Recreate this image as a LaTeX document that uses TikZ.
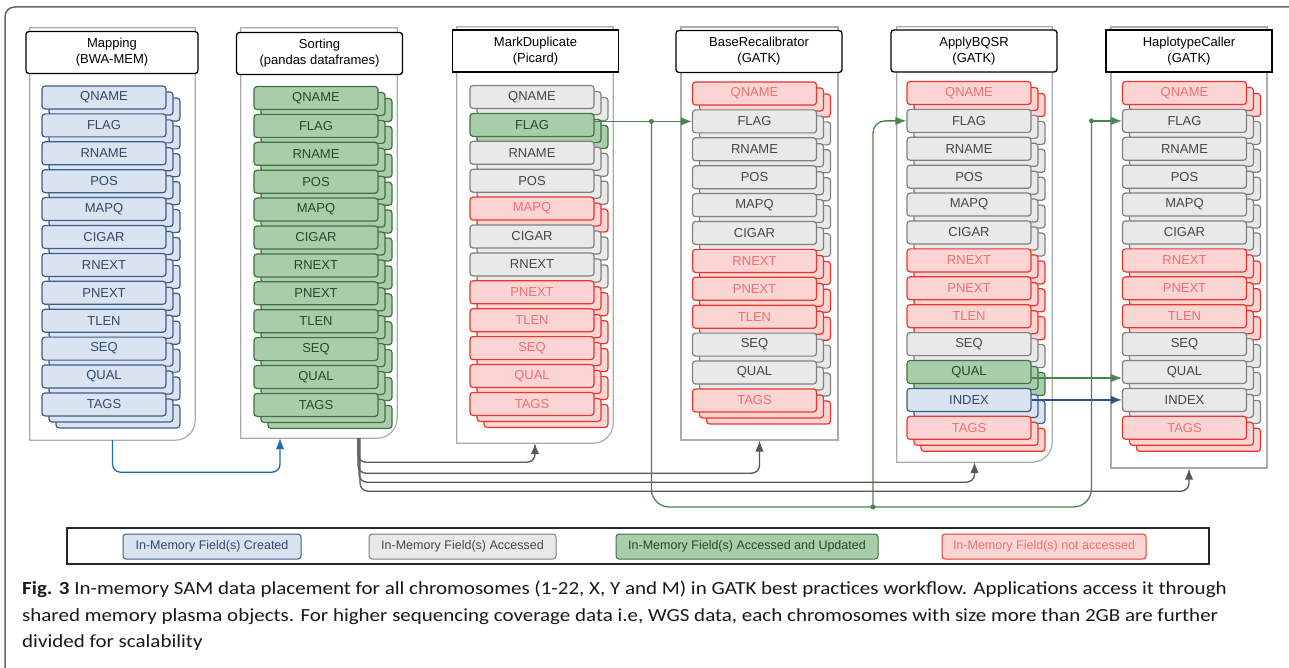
\documentclass[tikz,border=0pt]{standalone}
\usepackage{fontspec}
\setmainfont{Liberation Sans}
\newfontfamily\capfont[FakeStretch=1.135]{Carlito}
\usetikzlibrary{arrows.meta,positioning,fit}

\definecolor{crtfill}{RGB}{218,227,240}
\definecolor{crtline}{RGB}{62,92,140}
\definecolor{crttext}{RGB}{50,72,112}
\definecolor{accfill}{RGB}{233,233,233}
\definecolor{accline}{RGB}{128,128,128}
\definecolor{acctext}{RGB}{70,70,70}
\definecolor{updfill}{RGB}{167,206,169}
\definecolor{updline}{RGB}{66,112,68}
\definecolor{updtext}{RGB}{40,72,42}
\definecolor{nacfill}{RGB}{251,212,212}
\definecolor{nacline}{RGB}{240,52,42}
\definecolor{nactext}{RGB}{242,112,112}
\definecolor{flowgreen}{RGB}{72,135,74}
\definecolor{flowblue}{RGB}{30,108,170}
\definecolor{flownavy}{RGB}{48,82,140}
\definecolor{flowgray}{RGB}{88,88,88}

\tikzset{font=\fontsize{13}{16}\selectfont}
\tikzset{
  fld/.style={draw, rounded corners=3pt, line width=1.2pt, minimum width=124pt,
    minimum height=23pt, inner sep=0pt},
  crt/.style={fld, fill=crtfill, draw=crtline, text=crttext},
  acc/.style={fld, fill=accfill, draw=accline, text=acctext},
  upd/.style={fld, fill=updfill, draw=updline, text=updtext},
  nac/.style={fld, fill=nacfill, draw=nacline, text=nactext},
  stagebox/.style={draw=black, fill=white, line width=1.3pt, rounded corners=3pt,
    minimum width=166pt, minimum height=42pt, align=center, inner sep=0pt},
  contbox/.style={inner sep=0pt},
  contline/.style={draw=black!33, line width=1.2pt},
  legitem/.style={minimum height=25pt, font=\fontsize{12.5}{14}\selectfont, line width=1pt},
  flow/.style={line width=1.3pt, -{Latex[length=11pt,width=8.5pt]}},
}

% one field with its two stacked copies
\newcommand{\fld}[5]{%
  \node[#4] at ({#2+14},{#3+12}) {};
  \node[#4] at ({#2+7},{#3+6}) {};
  \node[#4] (#1) at ({#2},{#3}) {#5};}
% container, rounded bottom right / square
\newcommand{\contR}[3]{%
  \node[contbox, fit={#2 #3}] (#1) {};
  \draw[contline] (#1.south west) -- (#1.north west) -- (#1.north east)
    -- ([yshift=20pt]#1.south east) .. controls ([yshift=9pt]#1.south east)
    and ([xshift=-9pt]#1.south east) .. ([xshift=-20pt]#1.south east) -- cycle;}
\newcommand{\contS}[3]{%
  \node[contbox, contline, fit={#2 #3}] (#1) {};}

\begin{document}
\begin{tikzpicture}[x=1pt,y=-1pt]
  \useasboundingbox[fill=white] (0,0) rectangle (1289,668);
  \draw[line width=1.5pt, black!60] (5,680) -- (5,17) .. controls (5,11) and (9,7) .. (15,7) -- (1300,7);

  % containers
  \contR{mapC}{(30,28)}{(195,440)}
  \contR{sortC}{(241,28)}{(397,438)}
  \contR{mdC}{(457,27)}{(613,443)}
  \contS{brC}{(681,27)}{(838,440)}
  \contR{aqC}{(897,27)}{(1052,462)}
  \contS{hcC}{(1111,27)}{(1267,468)}

  % stage titles
  \node[stagebox, minimum width=172pt] (mapT) at (112,52.5) {Mapping\\(BWA-MEM)};
  \node[stagebox] (sortT) at (319.5,53.5) {Sorting\\(pandas dataframes)};
  \node[stagebox, sharp corners] (mdT) at (535.5,51) {MarkDuplicate\\(Picard)};
  \node[stagebox] (brT) at (759,51.5) {BaseRecalibrator\\(GATK)};
  \node[stagebox] (aqT) at (974,51) {ApplyBQSR\\(GATK)};
  \node[stagebox, sharp corners] (hcT) at (1189,51) {HaplotypeCaller\\(GATK)};

  % fields
  \foreach \lbl/\kind [count=\i] in {QNAME/crt,FLAG/crt,RNAME/crt,POS/crt,MAPQ/crt,CIGAR/crt,
      RNEXT/crt,PNEXT/crt,TLEN/crt,SEQ/crt,QUAL/crt,TAGS/crt}
    {\fld{map\i}{104}{97.5+27.9*(\i-1)}{\kind}{\lbl}}
  \foreach \lbl/\kind [count=\i] in {QNAME/upd,FLAG/upd,RNAME/upd,POS/upd,MAPQ/upd,CIGAR/upd,
      RNEXT/upd,PNEXT/upd,TLEN/upd,SEQ/upd,QUAL/upd,TAGS/upd}
    {\fld{sort\i}{316}{98+27.9*(\i-1)}{\kind}{\lbl}}
  \foreach \lbl/\kind [count=\i] in {QNAME/acc,FLAG/upd,RNAME/acc,POS/acc,MAPQ/nac,CIGAR/acc,
      RNEXT/acc,PNEXT/nac,TLEN/nac,SEQ/nac,QUAL/nac,TAGS/nac}
    {\fld{md\i}{532}{97+27.9*(\i-1)}{\kind}{\lbl}}
  \foreach \lbl/\kind [count=\i] in {QNAME/nac,FLAG/acc,RNAME/acc,POS/acc,MAPQ/acc,CIGAR/acc,
      RNEXT/nac,PNEXT/nac,TLEN/nac,SEQ/acc,QUAL/acc,TAGS/nac}
    {\fld{br\i}{754.5}{93.5+27.9*(\i-1)}{\kind}{\lbl}}
  \foreach \lbl/\kind [count=\i] in {QNAME/nac,FLAG/acc,RNAME/acc,POS/acc,MAPQ/acc,CIGAR/acc,
      RNEXT/nac,PNEXT/nac,TLEN/nac,SEQ/acc,QUAL/upd,INDEX/crt,TAGS/nac}
    {\fld{aq\i}{969}{93+27.9*(\i-1)}{\kind}{\lbl}}
  \foreach \lbl/\kind [count=\i] in {QNAME/nac,FLAG/acc,RNAME/acc,POS/acc,MAPQ/acc,CIGAR/acc,
      RNEXT/nac,PNEXT/nac,TLEN/nac,SEQ/acc,QUAL/acc,INDEX/acc,TAGS/nac}
    {\fld{hc\i}{1184.5}{93+27.9*(\i-1)}{\kind}{\lbl}}

  % data flow
  \draw[flow, flowblue, rounded corners=8pt] (mapC.south) -- ++(0,32) -| ([xshift=-39pt]sortC.south);
  \draw[flow, flowgray, rounded corners=8pt] ([xshift=39pt]sortC.south) -- ++(0,24) -| (mdC.south);
  \draw[flow, flowgray, rounded corners=8pt] ([xshift=39pt]sortC.south) -- ++(0,35) -| (brC.south);
  \draw[flow, flowgray, rounded corners=8pt] ([xshift=40pt]sortC.south) -- ++(0,44) -| (aqC.south);
  \draw[flow, flowgray, rounded corners=8pt] ([xshift=41pt]sortC.south) -- ++(0,53) -| (hcC.south);

  \path (br2.west) ++(-40.5,0) coordinate (gsplit);
  \path (hc2.west) ++(-30.5,0) coordinate (gjoin);
  \coordinate (gbus) at (873,507);
  \draw[flow, flowgreen] (md2.east |- br2.west) -- (br2.west);
  \draw[line width=1.3pt, flowgreen, rounded corners=18pt] (gsplit) |- (gbus) -| (gjoin);
  \draw[flow, flowgreen, rounded corners=12pt] (gbus) |- (aq2.west);
  \draw[flow, flowgreen] (gjoin) -- (hc2.west);
  \foreach \p in {gsplit,gbus,gjoin} \fill[flowgreen] (\p) circle (2.5pt);
  \draw[flow, flowgreen] ([yshift=-6pt]aq11.east) -- ([yshift=-6pt]hc11.west);
  \draw[flow, flownavy] (aq12.east) -- (hc12.west);

  % legend
  \node[draw=black!85, line width=1.2pt, minimum width=1142pt, minimum height=36pt] (legend) at (638,546) {};
  \node[crt, legitem, minimum width=178pt] (legcrt) at (212,546.5) {In-Memory Field(s) Created};
  \node[acc, legitem, minimum width=187pt] (legacc) at (462.5,546.5) {In-Memory Field(s) Accessed};
  \node[upd, legitem, minimum width=262pt] (legupd) at (747,546.5) {In-Memory Field(s) Accessed and Updated};
  \node[nac, legitem, minimum width=204pt] (legnac) at (1044,546.5) {In-Memory Field(s) not accessed};

  % caption
  \node[anchor=north west, align=left, inner sep=0pt, text=black!90,
    font=\capfont\fontsize{18.5}{26.5}\selectfont] (caption) at (22,581)
    {\textbf{Fig. 3} In-memory SAM data placement for all chromosomes (1-22, X, Y and M) in GATK best practices workflow. Applications access it through\\
     shared memory plasma objects. For higher sequencing coverage data i.e, WGS data, each chromosomes with size more than 2GB are further\\
     divided for scalability};
\end{tikzpicture}
\end{document}
